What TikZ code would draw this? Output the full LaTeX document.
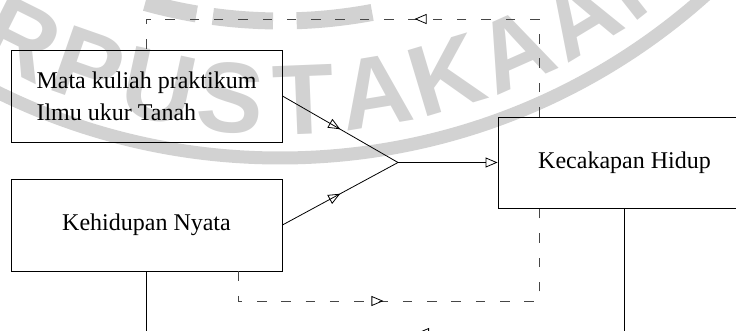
\documentclass[tikz,border=0pt]{standalone}
\usepackage{fontspec}
\setmainfont{Liberation Serif}
\newfontfamily\wmfont{Liberation Sans}
\usetikzlibrary{arrows.meta,decorations.markings}

\definecolor{wmgray}{RGB}{210,210,210}
\definecolor{dashgray}{RGB}{70,70,70}

\begin{document}
\begin{tikzpicture}[x=1pt,y=1pt,
  box/.style={draw, line width=0.9pt, minimum width=271pt, minimum height=92pt,
              inner sep=0pt, font=\fontsize{24}{32}\selectfont},
  link/.style={line width=0.8pt},
  dashlink/.style={line width=0.8pt, draw=dashgray, dash pattern=on 9.5pt off 14.8pt},
  midarrow/.style={postaction={decorate}, decoration={markings,
      mark=at position #1 with {\arrow[line width=0.8pt, solid, draw=black]{Triangle[open,length=12pt,width=10pt]}}}},
  wmletter/.style={text=wmgray, inner sep=0pt,
      font=\wmfont\bfseries\fontsize{100}{100}\selectfont},
  ringpiece/.style={draw=wmgray, line width=17pt},
]
\useasboundingbox (0,0) rectangle (736,-331);
\begin{scope}
\clip (0,0) rectangle (736,-331);

% library stamp in the background: outer ring, lettering, inner ring
\draw[wmgray, line width=13pt] (280,480) circle[radius=638];
\foreach \ch [count=\i from 0] in {P,E,R,P,U,S,T,A,K,A,A,N} {
  \pgfmathsetmacro\ang{272.3+(\i-6)*7.2}
  \node[wmletter, rotate=\ang+90] (wm\i)
    at ({280+580*cos(\ang)},{480+580*sin(\ang)}) {\ch};
}
\draw[ringpiece] ([shift={(254.4:501)}]280,480) arc[start angle=254.4, end angle=260.4, radius=501];
\draw[ringpiece] ([shift={(262.3:501)}]280,480) arc[start angle=262.3, end angle=269.2, radius=501];
\draw[ringpiece] ([shift={(271.9:501)}]280,480) arc[start angle=271.9, end angle=280.6, radius=501];

% blocks
\node[box, align=left] (mk) at (146.5,-96) {Mata kuliah praktikum\\Ilmu ukur Tanah};
\node[box] (kn) at (146.5,-225) {Kehidupan Nyata};
\node[box, minimum width=253pt, minimum height=91pt] (kh) at (624.5,-162.5) {Kecakapan Hidup};

% helper points
\coordinate (j) at (398,-162.5);
\coordinate (tl) at (146.5,-19);
\coordinate (bl) at (238,-301);
\coordinate (bk) at (146.5,-333);
\coordinate (bh) at (624.5,-333);

% inputs converging on the result
\draw[link, midarrow=0.5] (mk.east) -- (j);
\draw[link, midarrow=0.5] (kn.east) -- (j);
\draw[link, -{Triangle[open,length=12pt,width=10pt]}] (j) -- (kh.west);

% feedback loops
\draw[dashlink, midarrow=222pt] ([xshift=-85.5pt]kh.north) |- (tl) -- (mk.north);
\draw[dashlink, midarrow=175pt] ([xshift=91.5pt]kn.south) -- (bl) -| ([xshift=-85.5pt]kh.south);

% lower connections
\draw[link] (kn.south) -- (bk);
\draw[link] (kh.south) -- (bh);
\draw[link, midarrow=207.5pt] (bh) -- (bk);
\end{scope}
\end{tikzpicture}
\end{document}
